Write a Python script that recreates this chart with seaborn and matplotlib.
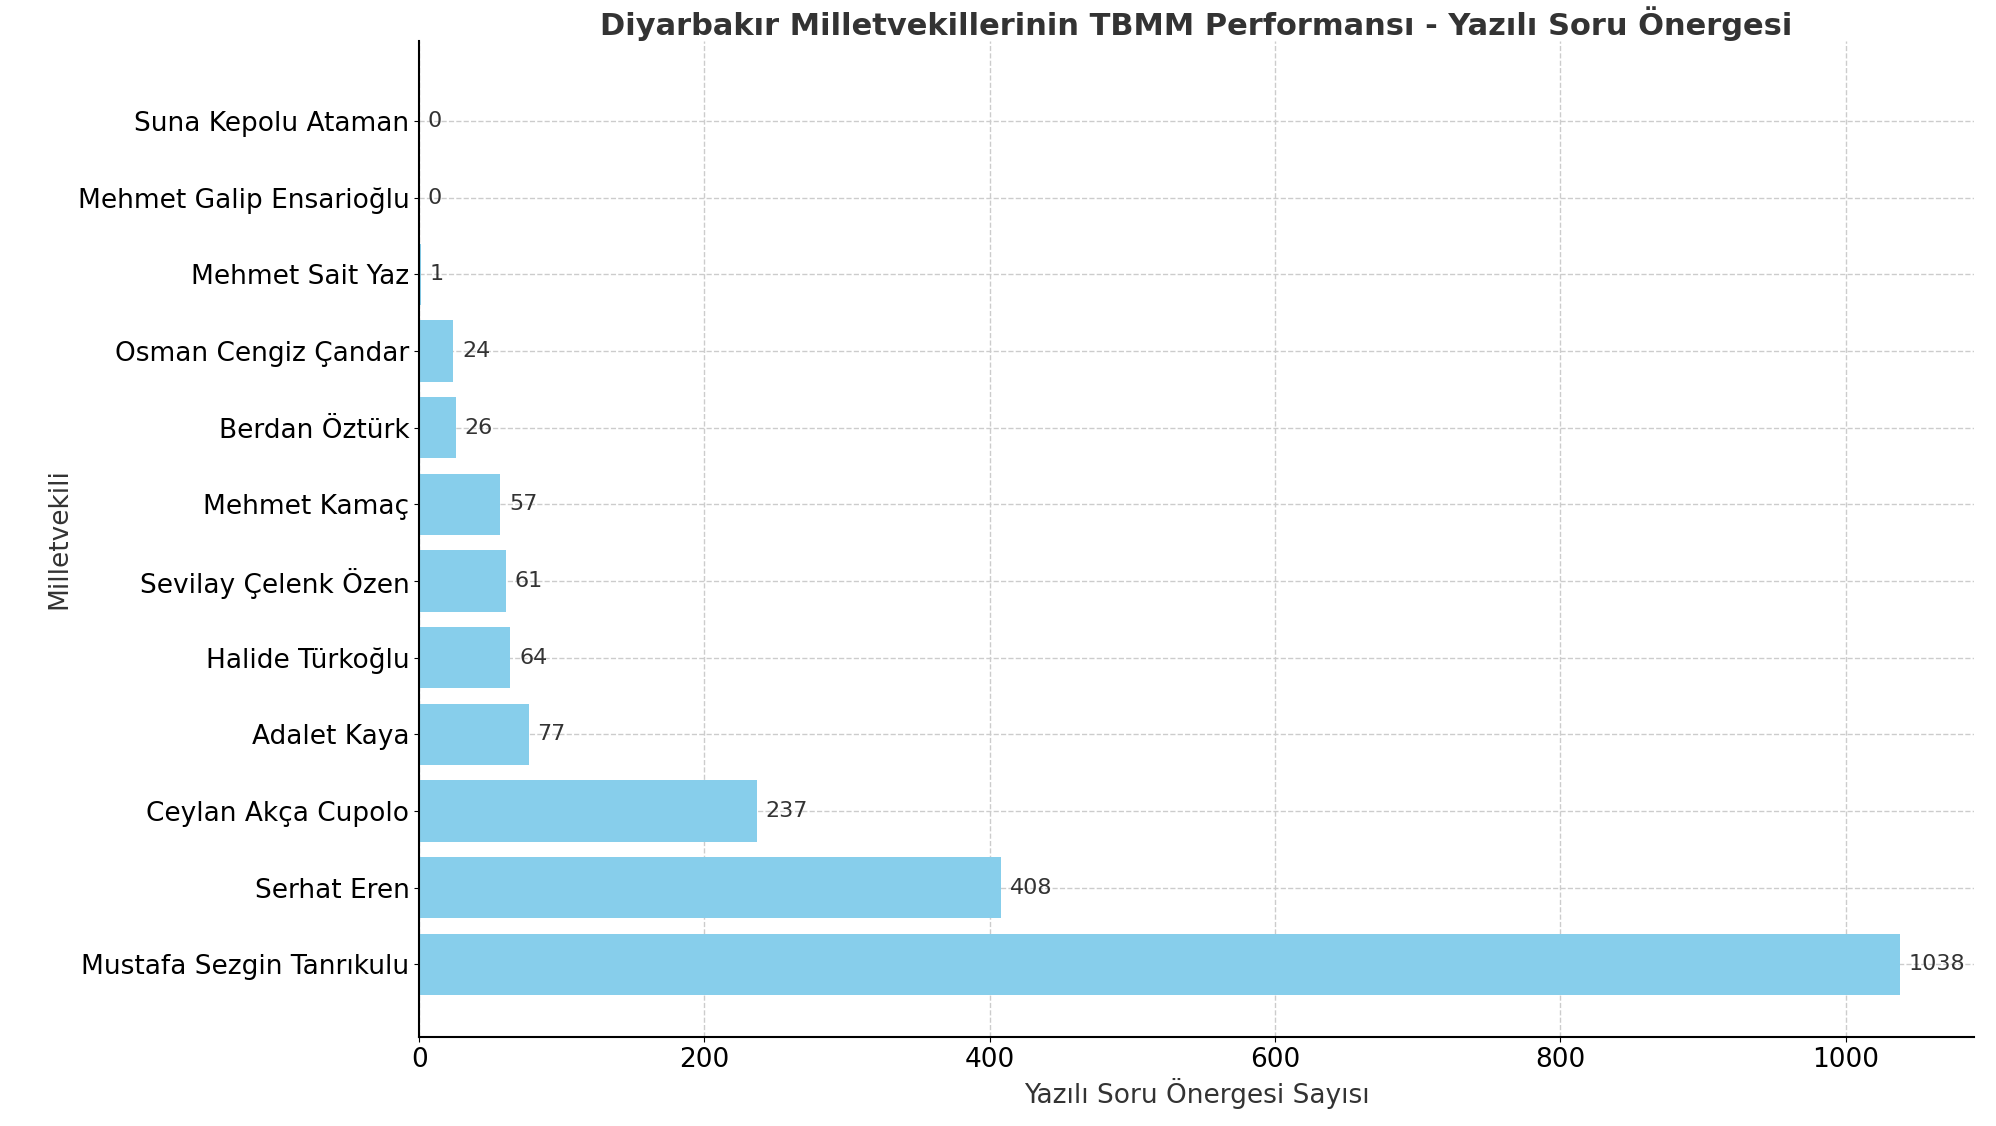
import matplotlib
matplotlib.use("Agg")
import matplotlib.pyplot as plt
import seaborn as sns
import pandas as pd

names = ["Suna Kepolu Ataman", "Mehmet Galip Ensarioğlu", "Mehmet Sait Yaz",
         "Osman Cengiz Çandar", "Berdan Öztürk", "Mehmet Kamaç",
         "Sevilay Çelenk Özen", "Halide Türkoğlu", "Adalet Kaya",
         "Ceylan Akça Cupolo", "Serhat Eren", "Mustafa Sezgin Tanrıkulu"]
values = [0, 0, 1, 24, 26, 57, 61, 64, 77, 237, 408, 1038]

df = pd.DataFrame({"name": names, "value": values})

plt.rcParams["font.family"] = "DejaVu Sans"
fig = plt.figure(figsize=(19.96, 11.26), dpi=100)
ax = fig.add_axes([0.21, 0.079, 0.779, 0.885])
sns.barplot(data=df, x="value", y="name", orient="h", color="#87CEEB",
            saturation=1, width=0.8, ax=ax, order=names)
for i, v in enumerate(values):
    ax.text(v + 6, i, str(v), va="center", ha="left", fontsize=16, color="#333333")
ax.set_xlim(0, 1090)
ax.set_ylim(11.95, -1.05)
ax.grid(True, linestyle="--", color="#cccccc", linewidth=1)
ax.set_axisbelow(True)
for s in ["top", "right"]:
    ax.spines[s].set_visible(False)
ax.spines["left"].set_linewidth(1.5)
ax.spines["bottom"].set_linewidth(1.5)
ax.tick_params(axis="both", labelsize=19)
ax.set_xlabel("Yazılı Soru Önergesi Sayısı", fontsize=19, color="#333333")
ax.set_ylabel("Milletvekili", fontsize=19, color="#333333")
ax.set_title("Diyarbakır Milletvekillerinin TBMM Performansı - Yazılı Soru Önergesi",
             fontsize=22, fontweight="bold", color="#333333", pad=2)
fig.savefig("out.png", dpi=100)
